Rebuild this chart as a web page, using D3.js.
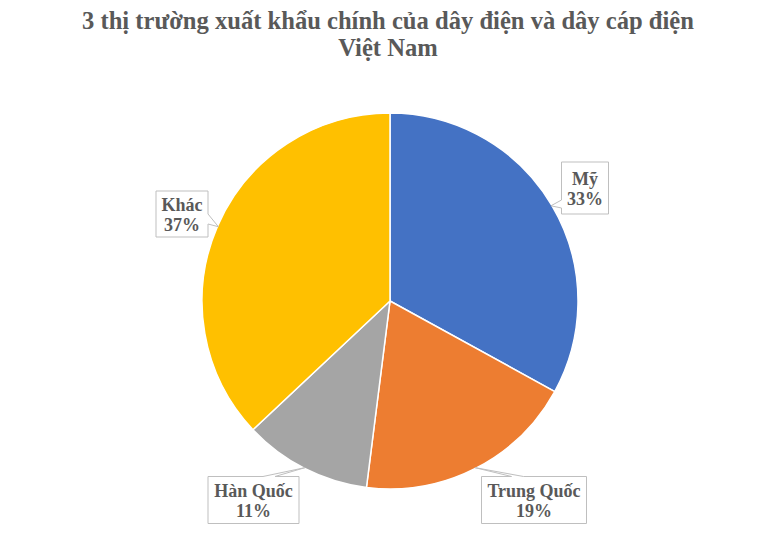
<!DOCTYPE html>
<html>
<head>
<meta charset="utf-8">
<script src="https://cdn.jsdelivr.net/npm/d3@7"></script>
<style>
  body { margin: 0; background: #fff; }
  svg { display: block; font-family: "Liberation Serif", "Times New Roman", serif; }
</style>
</head>
<body>
<div id="chart"></div>
<script>
  const titleLines = ["3 thị trường xuất khẩu chính của dây điện và dây cáp điện", "Việt Nam"];
  const markets = ["Mỹ", "Trung Quốc", "Hàn Quốc", "Khác"];
  const shares = [33, 19, 11, 37];
  const colors = ["#4472C4", "#ED7D31", "#A5A5A5", "#FFC000"];

  // label box placement: centre, size, which edge the pointer leaves from and where on it
  const boxes = [
    { cx: 585, cy: 188, w: 47, h: 52, side: "left", p: [38, 46] },
    { cx: 534, cy: 500, w: 105, h: 47, side: "top", p: [30, 42] },
    { cx: 253.5, cy: 500, w: 91, h: 47, side: "top", p: [55, 67] },
    { cx: 182, cy: 214, w: 52, h: 46, side: "right", p: [23, 33] },
  ];

  const width = 782, height = 535;
  const cx = 390, cy = 301, radius = 188;
  const textColor = "#595959";

  const svg = d3.select("#chart").append("svg")
    .attr("width", width)
    .attr("height", height);

  svg.append("text")
    .attr("text-anchor", "middle")
    .style("font-size", "24.6px")
    .style("font-weight", "bold")
    .style("fill", textColor)
    .selectAll("tspan")
    .data(titleLines)
    .join("tspan")
    .attr("x", width / 2 - 3)
    .attr("y", (d, i) => 29 + i * 27)
    .text((d) => d);

  const data = markets.map((m, i) => ({ name: m, value: shares[i], color: colors[i] }));

  const pie = d3.pie().value((d) => d.value).sort(null);
  const arc = d3.arc().innerRadius(0).outerRadius(radius);
  const arcs = pie(data);

  const g = svg.append("g").attr("transform", `translate(${cx},${cy})`);

  g.selectAll("path")
    .data(arcs)
    .join("path")
    .attr("d", arc)
    .attr("fill", (d) => d.data.color)
    .attr("stroke", "#fff")
    .attr("stroke-width", 1.5);

  // callout boxes, pointer goes to the slice edge at its middle angle
  arcs.forEach((a, i) => {
    const b = boxes[i];
    const mid = (a.startAngle + a.endAngle) / 2;
    const tx = cx + Math.sin(mid) * (radius - 1);
    const ty = cy - Math.cos(mid) * (radius - 1);
    const x0 = b.cx - b.w / 2, x1 = b.cx + b.w / 2;
    const y0 = b.cy - b.h / 2, y1 = b.cy + b.h / 2;
    let pts;
    if (b.side === "left") {
      pts = [[x0, y0], [x1, y0], [x1, y1], [x0, y1], [x0, y0 + b.p[1]], [tx, ty], [x0, y0 + b.p[0]]];
    } else if (b.side === "right") {
      pts = [[x0, y0], [x1, y0], [x1, y0 + b.p[0]], [tx, ty], [x1, y0 + b.p[1]], [x1, y1], [x0, y1]];
    } else {
      pts = [[x0, y0], [x0 + b.p[0], y0], [tx, ty], [x0 + b.p[1], y0], [x1, y0], [x1, y1], [x0, y1]];
    }
    svg.append("path")
      .attr("d", d3.line()(pts) + "Z")
      .attr("fill", "#fff")
      .attr("stroke", "#BFBFBF")
      .attr("stroke-width", 1);

    svg.append("text")
      .attr("text-anchor", "middle")
      .style("font-size", "18px")
      .style("font-weight", "bold")
      .style("fill", textColor)
      .selectAll("tspan")
      .data([a.data.name, a.data.value + "%"])
      .join("tspan")
      .attr("x", b.cx)
      .attr("y", (d, k) => b.cy - 3 + k * 20)
      .text((d) => d);
  });
</script>
</body>
</html>
